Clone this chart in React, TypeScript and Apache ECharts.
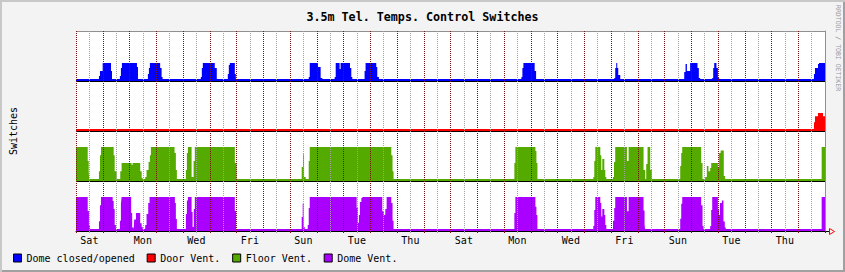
import React, { useEffect, useRef } from 'react';
import * as echarts from 'echarts';

// x values are hours from Saturday 00:00 (4 weeks = 672 h); y values are the fraction of "on"
const dayNames = [
  'Sat', 'Sun', 'Mon', 'Tue', 'Wed', 'Thu', 'Fri',
  'Sat', 'Sun', 'Mon', 'Tue', 'Wed', 'Thu', 'Fri',
  'Sat', 'Sun', 'Mon', 'Tue', 'Wed', 'Thu', 'Fri',
  'Sat', 'Sun', 'Mon', 'Tue', 'Wed', 'Thu', 'Fri',
];

const seriesNames = ['Dome closed/opened', 'Door Vent.', 'Floor Vent.', 'Dome Vent.'];

const domeClosedOpened: [number, number | null][] = [
  [0, 0],
  [20.6, 0.28], [21.5, 0.56], [23.9, 1], [31.4, 0.56], [32.3, 0],
  [39.4, 0.28], [40.3, 0.72], [41.2, 1], [54.7, 0.78], [55.6, 0],
  [64.5, 0.39], [65.4, 0.72], [66.3, 1], [75.5, 0.72], [76.8, 0.22], [77.7, 0],
  [112, 0.22], [112.9, 0.72], [113.8, 1], [124.5, 0.72], [126.3, 0],
  [136.2, 0.39], [137.1, 0.89], [138, 1], [142.5, 0.39], [143.4, 0],
  [208.8, 0.22], [209.7, 1], [217.1, 0.78], [219.5, 0.17], [221, 0],
  [232.1, 0.22], [233, 1], [236.5, 0.67], [237.4, 1], [245.8, 0.72], [247, 0.22], [247.9, 0],
  [258.9, 0.56], [259.8, 1], [269.4, 0.78], [270.3, 0.22], [271.8, 0],
  [399.6, 0.22], [400.5, 0.72], [401.4, 1], [411.5, 0.56], [412.8, 0],
  [482.9, 0.17], [483.8, 0.72], [484.7, 1], [485.6, 0.72], [486.5, 0.33], [488.3, 0],
  [545.7, 0.5], [546.9, 0.94], [548.1, 0.56], [551, 1], [557.6, 0.72], [558.8, 0.17], [560, 0],
  [570.8, 0.17], [571.7, 0.72], [572.6, 1], [574.6, 0.72], [575.9, 0.17], [577, 0],
  [662.1, 0.39], [663, 0.72], [665.7, 0.94], [666.6, 1], [672, 1],
];

const doorVent: [number, number | null][] = [
  [0, 0], [662.1, 0.48], [663, 0.82], [665.7, 1], [670.2, 0.82], [672, 0.82],
];

const floorVent: [number, number | null][] = [
  [0, 1], [10.5, 0.59], [11.4, 0.29], [11.9, 0],
  [20.6, 0.29], [21.5, 0.76], [22.4, 1], [33.8, 0.76], [34.7, 0.29], [36.5, 0],
  [39.7, 0.29], [40.9, 0.53], [49.9, 0.47], [50.8, 0.53], [57.6, 0.29], [58.9, 0.09], [59.8, 0],
  [62.1, 0.12], [63.3, 0.32], [65.1, 0.56], [66.3, 0.76], [67.2, 1], [88.4, 0.82], [89.6, 0.32], [90.5, 0],
  [98.6, 0.32], [99.5, 0.82], [100.4, 1], [103.7, 0.12], [105.5, 0.59], [106.6, 1], [142.5, 0.53], [144, 0],
  [202.5, 0.41], [203.7, 0.79], [204.6, 0.12], [206.1, 0], [207.9, 0.03], [208.8, 0.59], [209.7, 1], [282.9, 0.76], [284, 0.29], [284.9, 0],
  [393.3, 0.53], [394.2, 1], [412.2, 0.88], [413.1, 0.53], [414, 0],
  [464.1, 0.12], [465, 0.59], [465.9, 1], [470.4, 0.76], [471.3, 0.32], [472.2, 0.65], [474, 0.32], [474.9, 0.12], [475.8, 0],
  [481.8, 0.12], [482.7, 0.56], [483.8, 1], [494.3, 0.59], [495.8, 1], [509.2, 0.32], [510.7, 0], [511.6, 0.5], [512.8, 1], [515.2, 0.32], [516.7, 0],
  [542.1, 0.44], [543, 0.82], [543.9, 1], [560.9, 0.53], [562.1, 0],
  [564.5, 0.12], [566, 0.44], [567.4, 0.29], [569, 0.38], [569.9, 0.53], [575.9, 0.41], [577, 0.82], [578.4, 0.9], [581.2, 0.15], [582.4, 0],
  [667.5, null], [669, 1], [672, 1],
];

const domeVent: [number, number | null][] = [
  [0, 1], [10.5, 0.59], [11.6, 0.18], [12.5, 0],
  [20.6, 0.29], [21.5, 0.76], [22.4, 1], [32.9, 0.88], [33.8, 0.65], [34.7, 0.18], [35.8, 0],
  [39.4, 0.3], [40.3, 0.8], [40.9, 1], [49.5, 0.53], [50.4, 0.1], [51.7, 0], [52.2, 0.34], [53.8, 0.53], [57.6, 0.23], [58.9, 0.12], [59.8, 0],
  [62.1, 0.18], [63.3, 0.5], [64.8, 0.82], [66, 1], [88.7, 0.82], [89.6, 0.35], [90.5, 0],
  [98.6, 0.5], [99.5, 0.9], [100.4, 1], [103.7, 0.56], [104.6, 0.12], [105.7, 0.65], [106.6, 1], [142.5, 0.59], [143.6, 0],
  [202.5, 0.41], [203.4, 0.8], [204.3, 0.12], [205.2, 0], [207, 0.06], [207.9, 0.18], [208.8, 0.68], [209.7, 1],
  [251.8, 0.68], [252.9, 0.24], [253.8, 0.47], [254.7, 0.85], [256, 0.97], [256.9, 1],
  [274.8, 0.58], [276.2, 0.47], [277.5, 0.65], [278.7, 1], [282.9, 0.82], [284, 0.3], [284.9, 0],
  [393.3, 0.53], [394.2, 1], [412.2, 0.71], [413.1, 0.47], [414, 0],
  [464.1, 0.15], [465, 0.62], [465.9, 1], [470.4, 0.82], [471.3, 0.43], [472.2, 0.65], [474, 0.47], [474.9, 0.18], [475.8, 0],
  [481.8, 0.3], [482.9, 0.68], [483.8, 1], [494.3, 0.58], [495.8, 1], [509.2, 0.6], [510.1, 0.2], [510.7, 0],
  [542.1, 0.36], [543, 0.8], [543.9, 1], [560.9, 0.76], [562.1, 0.15], [563, 0],
  [569, 0.15], [569.9, 0.62], [570.8, 1], [575.9, 0.62], [576.8, 0.47], [577.7, 0.82], [579.5, 0.9], [580.9, 0.28], [582.1, 0.1], [583, 0],
  [667.5, null], [669, 1], [672, 1],
];

export default function App() {
  const ref = useRef<HTMLDivElement>(null);

  useEffect(() => {
    if (!ref.current) return;
    const chart = echarts.init(ref.current, undefined, { renderer: 'svg', width: 845, height: 272 });
    const mono = '"DejaVu Sans Mono", monospace';

    const bands = [
      { name: seriesNames[0], data: domeClosedOpened, color: '#0000ff', offset: 3, scale: 0.36 },
      { name: seriesNames[1], data: doorVent, color: '#ff0000', offset: 2, scale: 0.36 },
      { name: seriesNames[2], data: floorVent, color: '#55aa00', offset: 1, scale: 0.68 },
      { name: seriesNames[3], data: domeVent, color: '#aa00ff', offset: 0, scale: 0.68 },
    ];

    const series = bands.map((b) => ({
      name: b.name,
      type: 'line',
      step: 'end',
      color: b.color,
      xAxisIndex: 0,
      yAxisIndex: 0,
      data: b.data.map(([t, v]) => [t, v === null ? '-' : b.offset + v * b.scale]),
      showSymbol: false,
      symbol: 'none',
      silent: true,
      connectNulls: false,
      lineStyle: { width: 0, opacity: 0 },
      areaStyle: { origin: b.offset, color: b.color, opacity: 1 },
      emphasis: { disabled: true },
      markLine: {
        silent: true,
        symbol: 'none',
        label: { show: false },
        emphasis: { disabled: true },
        lineStyle: { color: b.color, width: 2, type: 'solid' },
        data: [{ yAxis: b.offset + 0.02 }],
      },
      z: 2,
    }));

    chart.setOption({
      animation: false,
      backgroundColor: 'transparent',
      title: {
        text: '3.5m Tel. Temps. Control Switches',
        left: 'center',
        top: 6,
        textStyle: { fontFamily: mono, fontSize: 11.7, fontWeight: 'bold', color: '#000' },
      },
      legend: {
        left: 13,
        top: 253,
        padding: 0,
        itemWidth: 8,
        itemHeight: 8,
        itemGap: 11.8,
        icon: 'rect',
        selectedMode: false,
        data: seriesNames,
        itemStyle: { borderColor: '#000', borderWidth: 1 },
        textStyle: { fontFamily: mono, fontSize: 10, color: '#000' },
      },
      grid: {
        left: 75, top: 31, width: 750, height: 200,
        show: true, backgroundColor: '#ffffff', borderWidth: 0,
      },
      xAxis: [
        {
          type: 'value', min: 0, max: 672, interval: 24, position: 'bottom', z: 10,
          axisLine: { show: true, lineStyle: { color: '#000', width: 1 } },
          axisTick: { show: true, length: 2, lineStyle: { color: '#7a1414' } },
          minorTick: { show: true, splitNumber: 2, length: 2, lineStyle: { color: '#a0a0a0' } },
          axisLabel: { show: false },
          splitLine: { show: true, showMaxLine: false, lineStyle: { color: '#7a1414', type: [1, 1], width: 1 } },
          minorSplitLine: { show: true, lineStyle: { color: '#a0a0a0', type: [1, 1], width: 1 } },
        },
        {
          type: 'category', data: dayNames, position: 'bottom', boundaryGap: true,
          axisLine: { show: false }, axisTick: { show: false }, splitLine: { show: false },
          axisLabel: { interval: 1, margin: 4, fontFamily: mono, fontSize: 10, color: '#000' },
        },
      ],
      yAxis: [
        {
          type: 'value', min: 0, max: 4, interval: 1, z: 10, position: 'left',
          name: 'Switches', nameLocation: 'middle', nameGap: 58,
          nameTextStyle: { fontFamily: mono, fontSize: 10, color: '#000' },
          axisLine: { show: false }, axisTick: { show: false }, axisLabel: { show: false },
          splitLine: { show: true, lineStyle: { color: ['#000', '#000', '#000', '#000', '#909090'], width: 1 } },
        },
        {
          type: 'value', min: 0, max: 4, position: 'right',
          axisLine: { show: true, lineStyle: { color: '#909090' } },
          axisTick: { show: false }, axisLabel: { show: false }, splitLine: { show: false },
        },
      ],
      series,
      graphic: [
        { type: 'line', shape: { x1: 825, y1: 231.5, x2: 829.5, y2: 231.5 }, style: { stroke: '#000', lineWidth: 1 }, silent: true },
        { type: 'polyline', shape: { points: [[829.5, 228.5], [829.5, 234.5], [834.5, 231.5], [829.5, 228.5]] }, style: { stroke: '#ff0000', fill: 'none', lineWidth: 1 }, silent: true },
        {
          type: 'text', x: 838, y: 5, rotation: -Math.PI / 2, silent: true,
          style: { text: 'RRDTOOL / TOBI OETIKER', fontFamily: mono, fontSize: 6.5, fill: '#9a9a9a', align: 'left', verticalAlign: 'middle' },
        },
      ],
    });

    return () => chart.dispose();
  }, []);

  return (
    <div
      style={{
        position: 'fixed', left: 0, top: 0, width: 845, height: 272,
        background: '#f3f3f3',
        boxShadow: 'inset 2px 2px 0 #c8c8c8, inset -2px -2px 0 #a0a0a0',
      }}
    >
      <div ref={ref} style={{ position: 'absolute', left: 0, top: 0, width: 845, height: 272 }} />
    </div>
  );
}
